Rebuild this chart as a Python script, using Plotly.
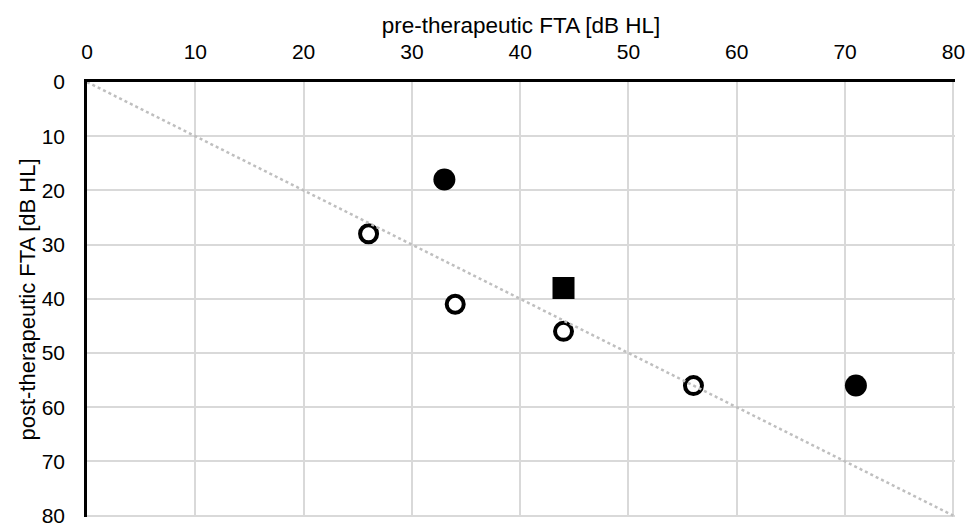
import plotly.graph_objects as go

# Data
filled_circle_x = [33, 71]
filled_circle_y = [18, 56]
square_x = [44]
square_y = [38]
open_circle_x = [26, 34, 44, 56]
open_circle_y = [28, 41, 46, 56]
ref_line_x = [0, 80]
ref_line_y = [0, 80]
tick_vals = [0, 10, 20, 30, 40, 50, 60, 70, 80]

FONT = "Liberation Sans, Arial, sans-serif"

fig = go.Figure()
fig.add_trace(go.Scatter(x=open_circle_x, y=open_circle_y, mode="markers",
                         marker=dict(symbol="circle", size=17, color="white",
                                     line=dict(color="black", width=4)),
                         showlegend=False))
fig.add_trace(go.Scatter(x=filled_circle_x, y=filled_circle_y, mode="markers",
                         marker=dict(symbol="circle", size=22, color="black",
                                     line=dict(width=0)),
                         showlegend=False))
fig.add_trace(go.Scatter(x=square_x, y=square_y, mode="markers",
                         marker=dict(symbol="square", size=20, color="black",
                                     line=dict(color="black", width=2)),
                         showlegend=False))
fig.add_trace(go.Scatter(x=ref_line_x, y=ref_line_y, mode="lines",
                         line=dict(color="#BFBFBF", width=2.5, dash="dot"),
                         showlegend=False))

fig.update_layout(
    template="none",
    width=968, height=528,
    margin=dict(l=87, r=13, t=82, b=11, pad=0),
    paper_bgcolor="white", plot_bgcolor="white",
    font=dict(family=FONT, size=21, color="black"),
    showlegend=False,
    xaxis=dict(
        side="top", range=[0, 80.15], tickvals=tick_vals,
        showgrid=True, gridcolor="#D9D9D9", gridwidth=1.5,
        zeroline=False, showline=True, linecolor="black", linewidth=2.5,
        ticks="", ticklabelstandoff=12, automargin=False,
        ticklabeloverflow="allow",
        title=dict(text="pre-therapeutic FTA [dB HL]", font=dict(size=22.5), standoff=0),
        tickfont=dict(size=21),
    ),
    yaxis=dict(
        range=[80.25, 0], tickvals=tick_vals,
        showgrid=True, gridcolor="#D9D9D9", gridwidth=1.5,
        zeroline=False, showline=True, linecolor="black", linewidth=2.5,
        ticks="", ticklabelstandoff=15, automargin=False,
        ticklabeloverflow="allow",
        title=dict(text="post-therapeutic FTA [dB HL]", font=dict(size=22), standoff=0),
        tickfont=dict(size=21),
    ),
)

fig.write_html("out.html", config={"displayModeBar": False},
               post_script="document.body.style.margin='0';document.body.style.overflow='hidden';")
